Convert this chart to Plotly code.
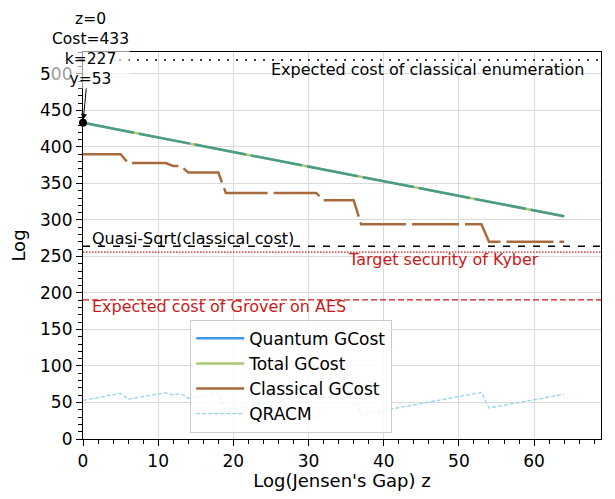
import plotly.graph_objects as go

# ---------------- data ----------------
z_vals = list(range(0, 65))

total_gcost = [433, 431, 429, 427, 425, 423, 421, 419, 417, 415,
               413, 411, 409, 407, 405, 403, 401, 399, 397, 395,
               393, 391, 389, 387, 385, 383, 381, 379, 377, 375,
               373, 371, 369, 367, 365, 363, 361, 359, 357, 355,
               353, 351, 349, 347, 345, 343, 341, 339, 337, 335,
               333, 331, 329, 327, 325, 323, 321, 319, 317, 315,
               313, 311, 309, 307, 305]

quantum_gcost = [433, 431, 429, 427, 425, 423, 421, 419, 417, 415,
                 413, 411, 409, 407, 405, 403, 401, 399, 397, 395,
                 393, 391, 389, 387, 385, 383, 381, 379, 377, 375,
                 373, 371, 369, 367, 365, 363, 361, 359, 357, 355,
                 353, 351, 349, 347, 345, 343, 341, 339, 337, 335,
                 333, 331, 329, 327, 325, 323, 321, 319, 317, 315,
                 313, 311, 309, 307, 305]

classical_gcost = [390, 390, 390, 390, 390, 390,
                   378, 378, 378, 378, 378, 378,
                   374, 374,
                   365, 365, 365, 365, 365,
                   337, 337, 337, 337, 337, 337, 337, 337, 337, 337, 337, 337, 337,
                   327, 327, 327, 327, 327,
                   294, 294, 294, 294, 294, 294, 294, 294, 294, 294, 294, 294, 294, 294, 294, 294, 294,
                   270, 270, 270, 270, 270, 270, 270, 270, 270, 270, 270]

qracm = [53.0, 55.0, 57.0, 58.8, 60.7, 62.5,
         54.5, 56.3, 58.1, 59.9, 61.7, 63.4,
         60.3, 62.1,
         55.8, 57.6, 59.4, 61.2, 63.2,
         39.3, 41.1, 42.9, 44.7, 46.5, 48.3, 50.1, 51.9, 53.7, 55.5, 57.3, 59.1, 60.9,
         55.8, 57.6, 59.4, 61.2, 63.2,
         33.5, 35.4, 37.3, 39.2, 41.1, 43.0, 44.9, 46.8, 48.7, 50.6, 52.5, 54.4, 56.3, 58.2, 60.1, 62.0, 63.8,
         42.4, 44.3, 46.2, 48.1, 50.0, 51.9, 53.8, 55.7, 57.6, 59.5, 61.4]

classical_enum_cost = 519
quasi_sqrt_cost = 264
kyber_target = 256
grover_aes_cost = 190.5

opt_z, opt_cost, opt_k, opt_y = 0, 433, 227, 53

x_ticks = [0, 10, 20, 30, 40, 50, 60]
y_ticks = [0, 50, 100, 150, 200, 250, 300, 350, 400, 450, 500]

# ---------------- styles ----------------
FONT = "DejaVu Sans"
C_QUANT = "#3f97ea"
C_TOTAL = "#a9c872"
C_TEAL = "#4a9c88"
C_CLASS = "#a86a3c"
C_QRACM = "#92d4f4"
C_RED = "#c81a1a"

fig = go.Figure()

# actual lines (legend shown via legend-only traces)
fig.add_trace(go.Scatter(x=z_vals, y=total_gcost, mode="lines",
                         line=dict(color=C_TOTAL, width=2.5), showlegend=False, hoverinfo="skip"))
fig.add_trace(go.Scatter(x=z_vals, y=quantum_gcost, mode="lines",
                         line=dict(color=C_TEAL, width=2.5, dash="52px,5px"), showlegend=False, hoverinfo="skip"))
fig.add_trace(go.Scatter(x=z_vals, y=classical_gcost, mode="lines",
                         line=dict(color=C_CLASS, width=2.5, dash="47px,6px"), showlegend=False, hoverinfo="skip"))
fig.add_trace(go.Scatter(x=z_vals, y=qracm, mode="lines",
                         line=dict(color=C_QRACM, width=1.3, dash="4px,2px"), showlegend=False, hoverinfo="skip"))

# legend entries
fig.add_trace(go.Scatter(x=[None], y=[None], mode="lines", name="Quantum GCost",
                         line=dict(color=C_QUANT, width=2.5)))
fig.add_trace(go.Scatter(x=[None], y=[None], mode="lines", name="Total GCost",
                         line=dict(color=C_TOTAL, width=2.5)))
fig.add_trace(go.Scatter(x=[None], y=[None], mode="lines", name="Classical GCost",
                         line=dict(color=C_CLASS, width=2.5)))
fig.add_trace(go.Scatter(x=[None], y=[None], mode="lines", name="QRACM",
                         line=dict(color=C_QRACM, width=1.3, dash="4px,2px")))

# optimum point
fig.add_trace(go.Scatter(x=[opt_z], y=[opt_cost], mode="markers", cliponaxis=False,
                         marker=dict(color="black", size=8), showlegend=False, hoverinfo="skip"))

# horizontal reference lines
fig.add_hline(y=classical_enum_cost, line=dict(color="black", width=1.5, dash="2px,7px"))
fig.add_hline(y=quasi_sqrt_cost, line=dict(color="black", width=1.3, dash="7px,8px"))
fig.add_hline(y=kyber_target, line=dict(color=C_RED, width=1.2, dash="1.5px,1.5px"))
fig.add_hline(y=grover_aes_cost, line=dict(color=C_RED, width=1.3, dash="6px,3px"))

lab_font = dict(family=FONT, size=16, color="black")
fig.add_annotation(x=24.8, y=506.5, text="Expected cost of classical enumeration", showarrow=False,
                   xanchor="left", yanchor="middle", font=lab_font)
fig.add_annotation(x=0.9, y=275, text="Quasi-Sqrt(classical cost)", showarrow=False,
                   xanchor="left", yanchor="middle", font=lab_font)
fig.add_annotation(x=35, y=246.5, text="Target security of Kyber", showarrow=False,
                   xanchor="left", yanchor="middle", font=dict(family=FONT, size=16, color=C_RED))
fig.add_annotation(x=0.9, y=181.5, text="Expected cost of Grover on AES", showarrow=False,
                   xanchor="left", yanchor="middle", font=dict(family=FONT, size=16, color=C_RED))

# optimum annotation
fig.add_annotation(x=opt_z, y=opt_cost,
                   text=f"z={opt_z}<br>Cost={opt_cost}<br>k={opt_k}<br>y={opt_y}",
                   showarrow=True, arrowhead=2, arrowsize=1.2, arrowwidth=1, arrowcolor="black",
                   ax=7, ay=-74, font=dict(family=FONT, size=15.5, color="black"),
                   bgcolor="rgba(255,255,255,0.6)", borderpad=0, standoff=3)

axis_common = dict(
    showline=True, linecolor="black", linewidth=1.2, mirror=True,
    showgrid=True, gridcolor="#dadada", gridwidth=1,
    ticks="outside", ticklen=6, tickwidth=1.2, tickcolor="black",
    tickfont=dict(family=FONT, size=17, color="black"),
    zeroline=False, automargin=False,
)

fig.update_xaxes(range=[0, 68.9], tickvals=x_ticks,
                 title=dict(text="Log(Jensen's Gap) z", font=dict(family=FONT, size=18, color="black"), standoff=6),
                 minor=dict(dtick=2, ticks="outside", ticklen=3.5, tickwidth=1, tickcolor="black", showgrid=False),
                 **axis_common)
fig.update_yaxes(range=[0, 530], tickvals=y_ticks,
                 title=dict(text="Log", font=dict(family=FONT, size=18, color="black"), standoff=10),
                 minor=dict(dtick=10, ticks="outside", ticklen=3.5, tickwidth=1, tickcolor="black", showgrid=False),
                 **axis_common)

# the page adds an 8px body margin, so the figure is sized/offset to compensate
fig.update_layout(
    width=599, height=483,
    margin=dict(l=75, r=6, t=44, b=52),
    paper_bgcolor="white", plot_bgcolor="white",
    font=dict(family=FONT, color="black"),
    legend=dict(x=0.207, y=0.308, xanchor="left", yanchor="top",
                bgcolor="rgba(255,255,255,0.8)", bordercolor="#cccccc", borderwidth=1,
                font=dict(family=FONT, size=17, color="black"), tracegroupgap=0,
                itemwidth=48),
    showlegend=True,
)

fig.write_html("out.html")
